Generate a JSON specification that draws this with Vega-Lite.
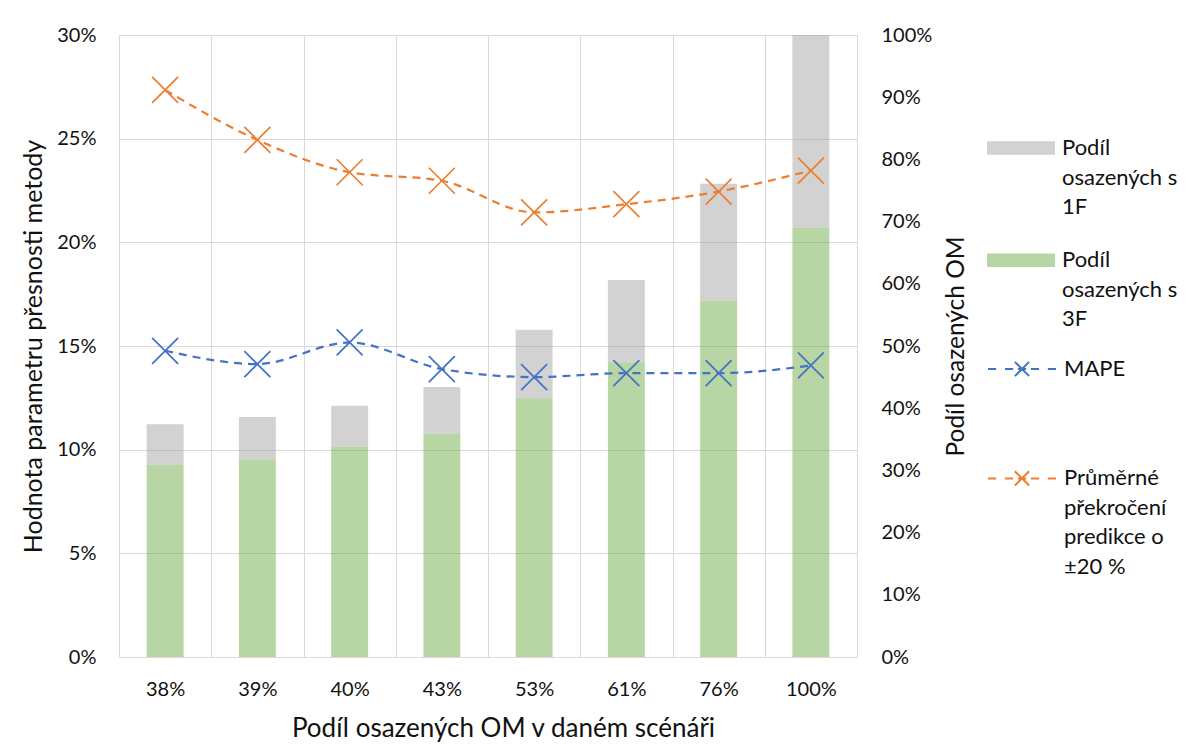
{
  "$schema": "https://vega.github.io/schema/vega-lite/v6.json",
  "autosize": {"type": "none"},
  "width": 738,
  "height": 622,
  "padding": {"left": 119, "top": 35, "right": 333, "bottom": 94},
  "background": "white",
  "config": {
    "font": "Lato",
    "view": {"stroke": "#d9d9d9", "strokeWidth": 1},
    "style": {"guide-label": {"lineHeight": 29.5}},
    "axis": {
      "labelFont": "Lato",
      "labelFontSize": 20,
      "labelColor": "#111111",
      "titleFont": "Lato",
      "titleFontSize": 25,
      "titleFontWeight": "normal",
      "titleColor": "#111111",
      "ticks": false,
      "domain": false,
      "gridColor": "#d9d9d9",
      "gridWidth": 1
    },
    "legend": {
      "labelFont": "Lato",
      "labelFontSize": 22,
      "labelColor": "#111111",
      "labelOffset": 7,
      "labelLimit": 220,
      "columns": 1,
      "orient": "none"
    }
  },
  "datasets": {
    "bars": [
      {"scenario": "38%", "series": "Podíl osazených s 3F", "value": 0.309},
      {"scenario": "38%", "series": "Podíl osazených s 1F", "value": 0.065},
      {"scenario": "39%", "series": "Podíl osazených s 3F", "value": 0.318},
      {"scenario": "39%", "series": "Podíl osazených s 1F", "value": 0.068},
      {"scenario": "40%", "series": "Podíl osazených s 3F", "value": 0.338},
      {"scenario": "40%", "series": "Podíl osazených s 1F", "value": 0.066},
      {"scenario": "43%", "series": "Podíl osazených s 3F", "value": 0.359},
      {"scenario": "43%", "series": "Podíl osazených s 1F", "value": 0.075},
      {"scenario": "53%", "series": "Podíl osazených s 3F", "value": 0.416},
      {"scenario": "53%", "series": "Podíl osazených s 1F", "value": 0.110},
      {"scenario": "61%", "series": "Podíl osazených s 3F", "value": 0.474},
      {"scenario": "61%", "series": "Podíl osazených s 1F", "value": 0.132},
      {"scenario": "76%", "series": "Podíl osazených s 3F", "value": 0.573},
      {"scenario": "76%", "series": "Podíl osazených s 1F", "value": 0.188},
      {"scenario": "100%", "series": "Podíl osazených s 3F", "value": 0.690},
      {"scenario": "100%", "series": "Podíl osazených s 1F", "value": 0.310}
    ],
    "lines": [
      {"scenario": "38%", "series": "MAPE", "value": 0.1477},
      {"scenario": "39%", "series": "MAPE", "value": 0.1413},
      {"scenario": "40%", "series": "MAPE", "value": 0.1517},
      {"scenario": "43%", "series": "MAPE", "value": 0.1389},
      {"scenario": "53%", "series": "MAPE", "value": 0.1350},
      {"scenario": "61%", "series": "MAPE", "value": 0.1369},
      {"scenario": "76%", "series": "MAPE", "value": 0.1369},
      {"scenario": "100%", "series": "MAPE", "value": 0.1406},
      {"scenario": "38%", "series": "Průměrné překročení predikce o ±20 %", "value": 0.2735},
      {"scenario": "39%", "series": "Průměrné překročení predikce o ±20 %", "value": 0.2494},
      {"scenario": "40%", "series": "Průměrné překročení predikce o ±20 %", "value": 0.2338},
      {"scenario": "43%", "series": "Průměrné překročení predikce o ±20 %", "value": 0.2297},
      {"scenario": "53%", "series": "Průměrné překročení predikce o ±20 %", "value": 0.2144},
      {"scenario": "61%", "series": "Průměrné překročení predikce o ±20 %", "value": 0.2184},
      {"scenario": "76%", "series": "Průměrné překročení predikce o ±20 %", "value": 0.2245},
      {"scenario": "100%", "series": "Průměrné překročení predikce o ±20 %", "value": 0.2346}
    ]
  },
  "layer": [
    {
      "data": {"name": "bars"},
      "mark": {"type": "bar", "opacity": 0.5, "width": {"band": 0.4}},
      "encoding": {
        "x": {
          "field": "scenario",
          "type": "ordinal",
          "sort": ["38%", "39%", "40%", "43%", "53%", "61%", "76%", "100%"],
          "scale": {"paddingInner": 0, "paddingOuter": 0},
          "axis": {
            "title": "Podíl osazených OM v daném scénáři",
            "titleFontSize": 26,
            "labelAngle": 0,
            "labelPadding": 22,
            "titlePadding": 16,
            "titleX": 384,
            "grid": true,
            "tickBand": "extent"
          }
        },
        "y": {
          "field": "value",
          "type": "quantitative",
          "stack": "zero",
          "scale": {"domain": [0, 1]},
          "axis": {
            "orient": "right",
            "title": "Podíl osazených OM",
            "titleFontSize": 24.5,
            "values": [0, 0.1, 0.2, 0.3, 0.4, 0.5, 0.6, 0.7, 0.8, 0.9, 1],
            "format": ".0%",
            "grid": false,
            "labelPadding": 24,
            "titleAngle": 270,
            "titleBaseline": "top",
            "titlePadding": 13
          }
        },
        "fill": {
          "field": "series",
          "type": "nominal",
          "scale": {
            "domain": ["Podíl osazených s 1F", "Podíl osazených s 3F"],
            "range": ["#A5A5A5", "#70AD47"]
          },
          "legend": {
            "title": null,
            "legendX": 868,
            "legendY": 79,
            "rowPadding": 8.2,
            "symbolType": "M-1,-0.2H1V0.2H-1Z",
            "symbolSize": 4624,
            "symbolOpacity": 0.5,
            "symbolStrokeWidth": 0,
            "labelExpr": "datum.label == 'Podíl osazených s 1F' ? ['Podíl', 'osazených s', '1F'] : ['Podíl', 'osazených s', '3F']"
          }
        },
        "order": {"field": "series", "sort": "descending"}
      }
    },
    {
      "data": {"name": "lines"},
      "encoding": {
        "x": {"field": "scenario", "type": "ordinal", "sort": ["38%", "39%", "40%", "43%", "53%", "61%", "76%", "100%"]},
        "y": {
          "field": "value",
          "type": "quantitative",
          "scale": {"domain": [0, 0.3]},
          "axis": {
            "orient": "left",
            "title": "Hodnota parametru přesnosti metody",
            "values": [0, 0.05, 0.1, 0.15, 0.2, 0.25, 0.3],
            "format": ".0%",
            "grid": true,
            "labelPadding": 23,
            "titlePadding": 10
          }
        },
        "stroke": {
          "field": "series",
          "type": "nominal",
          "scale": {
            "domain": ["MAPE", "Průměrné překročení predikce o ±20 %"],
            "range": ["#4472C4", "#ED7D31"]
          },
          "legend": {
            "title": null,
            "legendX": 868,
            "legendY": 299,
            "rowPadding": 62.4,
            "symbolType": "M-1,0H-0.76M-0.5,0H-0.26M-0.12,0H0.12M0.26,0H0.5M0.76,0H1M-0.21,-0.21L0.21,0.21M-0.21,0.21L0.21,-0.21",
            "symbolSize": 4624,
            "symbolStrokeWidth": 2,
            "symbolFillColor": "transparent",
            "symbolOpacity": 1,
            "labelExpr": "datum.label == 'MAPE' ? 'MAPE' : ['Průměrné', 'překročení', 'predikce o', '±20 %']"
          }
        }
      },
      "layer": [
        {"mark": {"type": "line", "strokeDash": [8, 6], "strokeWidth": 2.25, "interpolate": "monotone"}},
        {"mark": {"type": "point", "shape": "M-1,-1L1,1M-1,1L1,-1", "filled": false, "size": 676, "strokeWidth": 1.75, "opacity": 1}}
      ]
    }
  ],
  "resolve": {"scale": {"y": "independent"}}
}
